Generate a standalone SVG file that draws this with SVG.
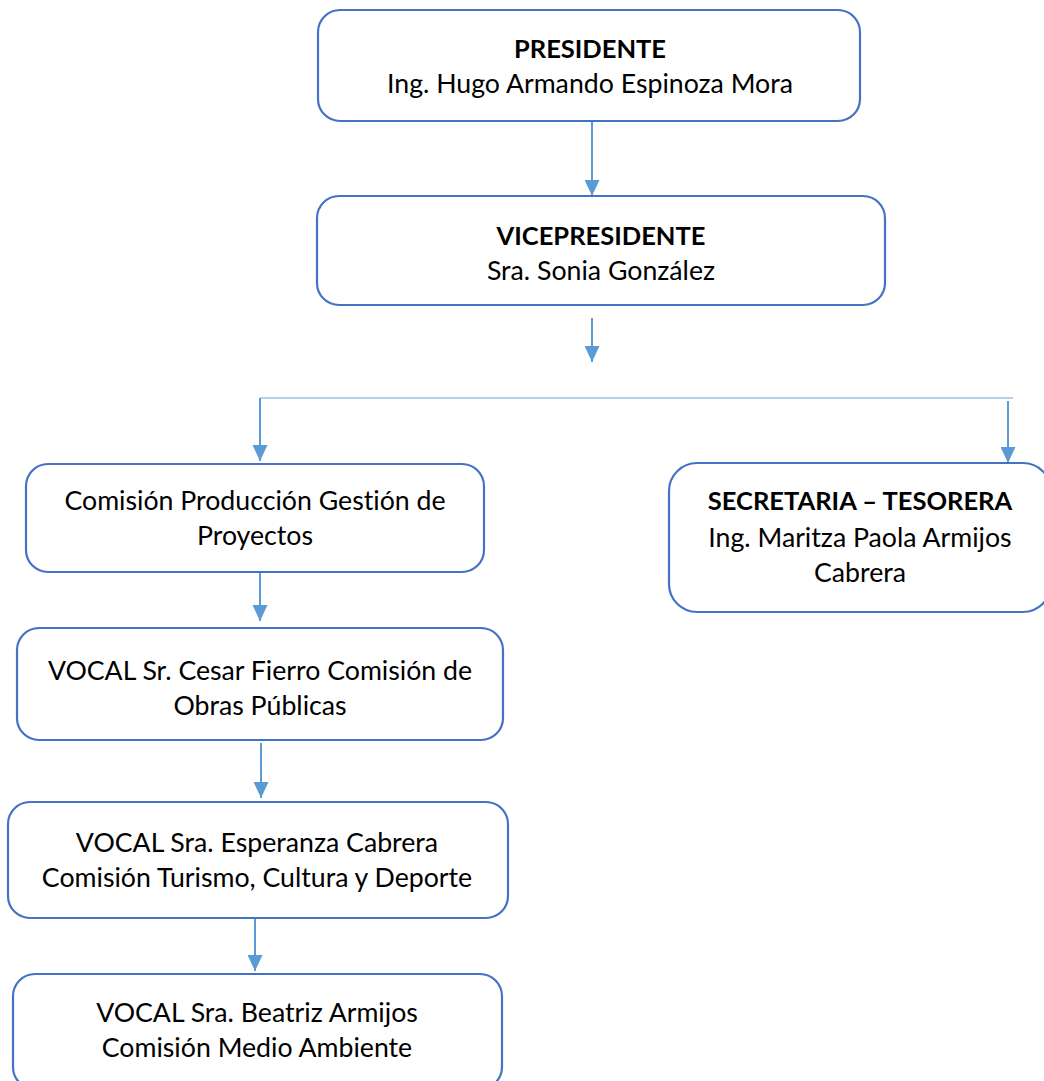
<svg xmlns="http://www.w3.org/2000/svg" width="1044" height="1081" viewBox="0 0 1044 1081">
  <style>
    .box { fill: #ffffff; stroke: #4472C4; stroke-width: 2.2; }
    .lbl { font-family: Lato, "Open Sans", "Liberation Sans", sans-serif; font-size: 26.7px; fill: #000000; text-anchor: middle; font-variant-ligatures: none; }
    .b { font-weight: bold; font-size: 25.5px; }
    .link { fill: none; stroke: #5B9BD5; stroke-width: 2; }
    .bar { fill: none; stroke: #9DC3E6; stroke-width: 1.6; }
  </style>
  <defs>
    <marker id="arrow" viewBox="0 0 16 15" refX="16" refY="7.5" markerWidth="16" markerHeight="15" markerUnits="userSpaceOnUse" orient="auto">
      <path d="M0,0 L16,7.5 L0,15 z" fill="#5B9BD5"/>
    </marker>
  </defs>

  <!-- connectors -->
  <g id="connectors">
    <path class="link" d="M592,122 V196" marker-end="url(#arrow)"/>
    <path class="link" d="M592,318 V362" marker-end="url(#arrow)"/>
    <path class="bar" d="M260,398 H1013"/>
    <path class="link" d="M260,398 V461" marker-end="url(#arrow)"/>
    <path class="link" d="M1008,401 V463" marker-end="url(#arrow)"/>
    <path class="link" d="M260,573 V621" marker-end="url(#arrow)"/>
    <path class="link" d="M261,743 V798" marker-end="url(#arrow)"/>
    <path class="link" d="M255,918 V971" marker-end="url(#arrow)"/>
  </g>

  <g id="presidente">
    <rect class="box" x="318" y="10" width="542" height="111" rx="22"/>
    <text class="lbl b" x="590" y="58">PRESIDENTE</text>
    <text class="lbl" x="590" y="93">Ing. Hugo Armando Espinoza Mora</text>
  </g>

  <g id="vicepresidente">
    <rect class="box" x="317" y="196" width="568" height="109" rx="22"/>
    <text class="lbl b" x="601" y="245">VICEPRESIDENTE</text>
    <text class="lbl" x="601" y="280">Sra. Sonia González</text>
  </g>

  <g id="comision-produccion">
    <rect class="box" x="26" y="464" width="458" height="108" rx="22"/>
    <text class="lbl" x="255" y="510">Comisión Producción Gestión de</text>
    <text class="lbl" x="255" y="545">Proyectos</text>
  </g>

  <g id="secretaria-tesorera">
    <rect class="box" x="669" y="463" width="382" height="149" rx="28"/>
    <text class="lbl b" x="860" y="510">SECRETARIA – TESORERA</text>
    <text class="lbl" x="860" y="547">Ing. Maritza Paola Armijos</text>
    <text class="lbl" x="860" y="582">Cabrera</text>
  </g>

  <g id="vocal-fierro">
    <rect class="box" x="17" y="628" width="486" height="112" rx="22"/>
    <text class="lbl" x="260" y="680">VOCAL Sr. Cesar Fierro Comisión de</text>
    <text class="lbl" x="260" y="715">Obras Públicas</text>
  </g>

  <g id="vocal-cabrera">
    <rect class="box" x="8" y="802" width="500" height="116" rx="22"/>
    <text class="lbl" x="257" y="852">VOCAL Sra. Esperanza Cabrera</text>
    <text class="lbl" x="257" y="887">Comisión Turismo, Cultura y Deporte</text>
  </g>

  <g id="vocal-armijos">
    <rect class="box" x="13" y="974" width="489" height="115" rx="22"/>
    <text class="lbl" x="257" y="1022">VOCAL Sra. Beatriz Armijos</text>
    <text class="lbl" x="257" y="1057">Comisión Medio Ambiente</text>
  </g>
</svg>
